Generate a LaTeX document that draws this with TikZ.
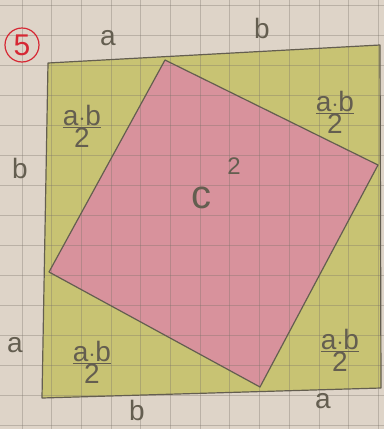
\documentclass[tikz,border=0pt]{standalone}
\usepackage{fontspec}
\setmainfont{Liberation Sans}
\definecolor{paper}{RGB}{222,212,200}
\definecolor{gridc}{RGB}{120,112,104}
\definecolor{olive}{RGB}{200,195,115}
\definecolor{rose}{RGB}{216,146,156}
\definecolor{pencil}{RGB}{100,94,80}
\definecolor{redpen}{RGB}{214,40,52}

\tikzset{edge/.style={draw=pencil,line width=1.2pt,line join=round},
	label/.style={text=pencil,font=\fontsize{28}{28}\selectfont,inner sep=0pt},
	frac/.style={text=pencil,font=\fontsize{28}{24}\selectfont,align=center,inner sep=0pt}
}
\tikzstyle{gridline}=[draw=gridc,line width=0.9pt,opacity=0.35]
\newcommand{\half}{\underline{a$\cdot$b}\\[-2pt]2}

\begin{document}
\begin{tikzpicture}[x=1pt,y=-1pt]
	\fill[paper] (0,0) rectangle (384,429);
	\useasboundingbox (0,0) rectangle (384,429);
	% outer square a+b
	\coordinate (TL) at (48,63);
	\coordinate (TR) at (380,45);
	\coordinate (BR) at (381,388);
	\coordinate (BL) at (42,398);
	% inner square c
	\coordinate (T) at (165,60);
	\coordinate (R) at (378,165);
	\coordinate (B) at (260,387);
	\coordinate (L) at (49,272);

	\fill[olive] (TL) -- (TR) -- (BR) -- (BL) -- cycle;
	\fill[rose] (T) -- (R) -- (B) -- (L) -- cycle;

	\foreach \i in {0,...,12}{
		\draw[gridline] ({22+29.7*\i},0) -- ({22+29.7*\i},429);
	}
	\foreach \j in {0,...,14}{
		\draw[gridline] (0,{5+30*\j}) -- (384,{5+30*\j});
	}

	\draw[edge] (TL) -- (TR) -- (BR) -- (BL) -- cycle;
	\draw[edge] (T) -- (R) -- (B) -- (L) -- cycle;

	% number
	\node (num)[circle,draw=redpen,line width=1.2pt,minimum size=34pt,inner sep=0pt,
		text=redpen,font=\fontsize{30}{30}\selectfont] at (22,45) {5};

	% sides
	\node (aT)[label] at (108,38) {a};
	\node (bT)[label] at (262,28) {b};
	\node (bL)[label] at (20,168) {b};
	\node (aL)[label] at (15,345) {a};
	\node (bB)[label] at (137,410) {b};
	\node (aB)[label] at (323,401) {a};

	% triangles
	\node (f1)[frac] at (82,126) {\half};
	\node (f2)[frac] at (335,112) {\half};
	\node (f3)[frac] at (92,362) {\half};
	\node (f4)[frac] at (340,350) {\half};

	\node (c)[label,font=\fontsize{40}{40}\selectfont] at (201,198) {c};
	\node (sq)[label,font=\fontsize{24}{24}\selectfont] at (234,166) {2};
\end{tikzpicture}
\end{document}
